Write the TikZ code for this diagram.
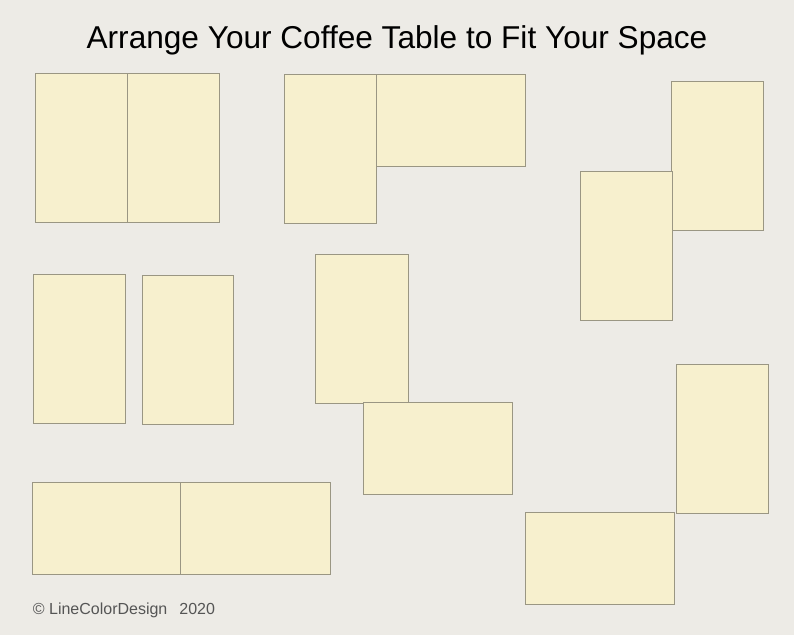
\documentclass[tikz,border=0pt]{standalone}
\usepackage{fontspec}
\setmainfont{Liberation Sans}
\definecolor{bg}{HTML}{EDEBE6}
\definecolor{tablefill}{HTML}{F7F0CE}
\definecolor{tableline}{HTML}{9A9683}
\definecolor{credit}{HTML}{555555}
\begin{document}
\begin{tikzpicture}[x=1pt,y=-1pt,
  tbl/.style={draw=tableline, fill=tablefill, line width=0.9pt, inner sep=0pt, outer sep=0pt, anchor=north west},
  ]
\fill[bg] (0,0) rectangle (794,635);
\useasboundingbox (0,0) rectangle (794,635);
% title
\node[anchor=base, inner sep=0pt, font=\fontsize{31.6}{34}\selectfont] (title) at (397,48.8) {Arrange Your Coffee Table to Fit Your Space};
% group 1
\node[tbl, minimum width=92pt, minimum height=149.5pt] (a1) at (35.3,73.3) {};
\node[tbl, minimum width=92pt, minimum height=149.5pt] (a2) at (127.3,73.3) {};
% group 2
\node[tbl, minimum width=92pt, minimum height=149.3pt] (b1) at (284.3,74) {};
\node[tbl, minimum width=149.4pt, minimum height=92.3pt] (b2) at (376.3,74) {};
% group 3
\node[tbl, minimum width=92pt, minimum height=148.6pt] (c1) at (671.3,81.7) {};
\node[tbl, minimum width=91.7pt, minimum height=149pt] (c2) at (580.3,171.3) {};
% group 4
\node[tbl, minimum width=92pt, minimum height=149pt] (d1) at (33,274.3) {};
\node[tbl, minimum width=91.7pt, minimum height=148.7pt] (d2) at (142,275.3) {};
% group 5
\node[tbl, minimum width=92.3pt, minimum height=148.7pt] (e1) at (315.7,254.3) {};
\node[tbl, minimum width=149pt, minimum height=91.6pt] (e2) at (363,402.7) {};
% group 6
\node[tbl, minimum width=148.3pt, minimum height=91.7pt] (f1) at (32,482.3) {};
\node[tbl, minimum width=149.7pt, minimum height=91.7pt] (f2) at (180.3,482.3) {};
% group 7
\node[tbl, minimum width=92pt, minimum height=148.7pt] (g1) at (676.3,364.3) {};
\node[tbl, minimum width=149pt, minimum height=91.7pt] (g2) at (525.3,512.3) {};
% credit
\node[anchor=base west, inner sep=0pt, text=credit, font=\fontsize{16}{18}\selectfont] (credit) at (32.7,614) {© LineColorDesign\hspace{12pt}2020};
\end{tikzpicture}
\end{document}
